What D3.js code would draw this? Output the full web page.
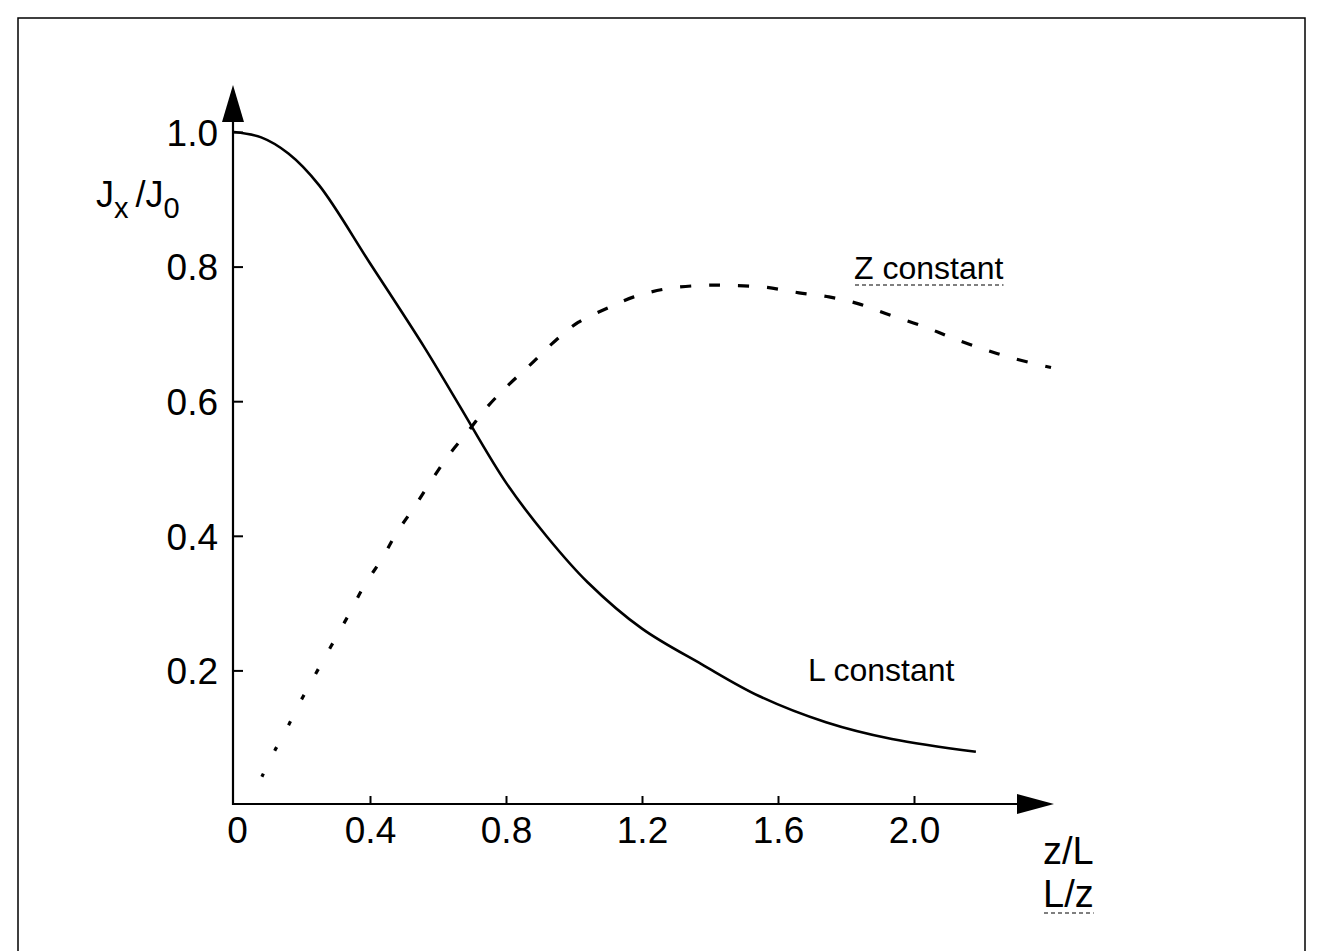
<!DOCTYPE html>
<html><head><meta charset="utf-8">
<script src="https://cdn.jsdelivr.net/npm/d3@7"></script>
<style>body{margin:0;background:#fff}svg{display:block}text{font-family:"Liberation Sans",Arial,Helvetica,sans-serif;fill:#000}</style>
</head><body>
<svg id="c" width="1323" height="951"></svg>
<script>
// Data
const lConstX = [0, 0.08, 0.16, 0.25, 0.40, 0.56, 0.66, 0.80, 0.92, 1.04, 1.2, 1.376, 1.544, 1.741, 1.935, 2.182];
const lConstY = [1.0, 0.992, 0.968, 0.921, 0.805, 0.680, 0.596, 0.479, 0.399, 0.331, 0.262, 0.209, 0.162, 0.123, 0.098, 0.079];
const zConstX = [0.082, 0.118, 0.153, 0.185, 0.224, 0.259, 0.300, 0.341, 0.382, 0.435, 0.479, 0.524, 0.626, 0.685, 0.744, 0.809, 0.871, 0.941, 1.012, 1.106, 1.176, 1.271, 1.374, 1.462, 1.568, 1.662, 1.750, 1.835, 1.929, 2.029, 2.112, 2.206, 2.297, 2.403];
const zConstY = [0.042, 0.079, 0.111, 0.144, 0.180, 0.212, 0.249, 0.286, 0.325, 0.366, 0.405, 0.438, 0.516, 0.553, 0.591, 0.625, 0.654, 0.688, 0.717, 0.740, 0.755, 0.767, 0.772, 0.772, 0.769, 0.761, 0.755, 0.745, 0.728, 0.711, 0.694, 0.677, 0.663, 0.650];
const xTicks = [0, 0.4, 0.8, 1.2, 1.6, 2.0];
const yTicks = [0.2, 0.4, 0.6, 0.8, 1.0];
const curveLabels = ["L constant", "Z constant"];
const xAxisLabels = ["z/L", "L/z"];

const svg = d3.select("#c");
const x = d3.scaleLinear().domain([0, 2]).range([234, 914]);
const y = d3.scaleLinear().domain([0, 1]).range([805, 132]);

// frame
svg.append("rect").attr("x", 18).attr("y", 18).attr("width", 1287).attr("height", 1100)
  .attr("fill", "none").attr("stroke", "#000").attr("stroke-width", 1.5);

// axes
const yAxis = d3.axisLeft(y).tickValues(yTicks).tickFormat(d3.format(".1f"))
  .tickSizeInner(-10).tickSizeOuter(0).tickPadding(15);
const gy = svg.append("g").attr("transform", `translate(${x(0) - 1},0)`).call(yAxis);
gy.select(".domain").remove();
gy.selectAll(".tick line").attr("stroke-width", 2);
gy.selectAll(".tick text").style("font-size", "37px").attr("dy", "0.36em");

const xAxis = d3.axisBottom(x).tickValues(xTicks)
  .tickFormat(d => d === 0 ? "0" : d3.format(".1f")(d))
  .tickSizeInner(-8).tickSizeOuter(0).tickPadding(13);
const gx = svg.append("g").attr("transform", `translate(0,${y(0) - 1})`).call(xAxis);
gx.select(".domain").remove();
gx.selectAll(".tick line").attr("stroke-width", 2).filter(d => d === 0).remove();
gx.selectAll(".tick text").style("font-size", "37px").filter(d => d === 0).attr("dx", 3);

// axis lines with arrows
const ax0 = x(0) - 1, ay0 = y(0) - 1;
svg.append("line").attr("x1", ax0).attr("y1", ay0 + 1).attr("x2", ax0).attr("y2", 110)
  .attr("stroke", "#000").attr("stroke-width", 2.2);
svg.append("path").attr("d", `M${ax0},85 L${ax0 - 11},122 L${ax0 + 11},122 Z`).attr("fill", "#000");
svg.append("line").attr("x1", ax0 - 1).attr("y1", ay0).attr("x2", 1030).attr("y2", ay0)
  .attr("stroke", "#000").attr("stroke-width", 2.2);
svg.append("path").attr("d", `M1054,${ay0} L1017,${ay0 - 10} L1017,${ay0 + 10} Z`).attr("fill", "#000");

// curves
const line = d3.line().x(d => x(d[0])).y(d => y(d[1])).curve(d3.curveCatmullRom.alpha(0.5));
const lData = lConstX.map((v, i) => [v, lConstY[i]]);
const zData = zConstX.map((v, i) => [v, zConstY[i]]);

svg.append("path").datum(lData).attr("d", line)
  .attr("fill", "none").attr("stroke", "#000").attr("stroke-width", 2.6);

const zp = svg.append("path").datum(zData).attr("d", line)
  .attr("fill", "none").attr("stroke", "#000").attr("stroke-width", 3.2);
const L = zp.node().getTotalLength();
const dashes = [];
let pos = 0;
const period = 29;
while (pos < L) {
  const dl = 3.5 + 7.5 * Math.min(pos / 420, 1);
  dashes.push(dl.toFixed(1), (period - dl).toFixed(1));
  pos += period;
}
zp.attr("stroke-dasharray", dashes.join(","));

// y label
const yl = svg.append("text").attr("x", 96).attr("y", 207).style("font-size", "36px");
yl.append("tspan").text("J");
yl.append("tspan").attr("dy", 11).style("font-size", "29px").text("x");
yl.append("tspan").attr("dy", -11).attr("dx", 7).text("/J");
yl.append("tspan").attr("dy", 11).style("font-size", "29px").text("0");

// curve labels
function underlined(txt, px, py, size) {
  const t = svg.append("text").attr("x", px).attr("y", py).style("font-size", size + "px").text(txt);
  const b = t.node().getBBox();
  svg.append("line").attr("x1", b.x + 1).attr("x2", b.x + b.width).attr("y1", py + 6).attr("y2", py + 6)
    .attr("stroke", "#000").attr("stroke-width", 1.2).attr("stroke-dasharray", "4,3");
  return t;
}
svg.append("text").attr("x", 808).attr("y", 681).style("font-size", "32px").text(curveLabels[0]);
underlined(curveLabels[1], 854, 279, 32);

// x labels
svg.append("text").attr("x", 1043).attr("y", 864).style("font-size", "38px").text(xAxisLabels[0]);
underlined(xAxisLabels[1], 1043, 907, 38);
</script>
</body></html>
